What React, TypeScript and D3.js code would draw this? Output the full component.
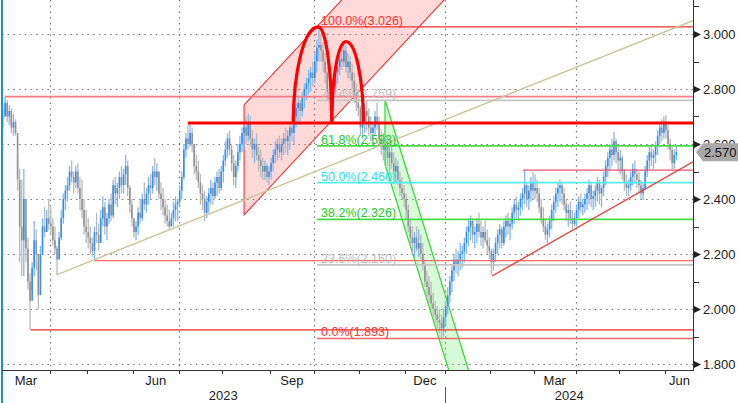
import React from 'react';
import * as d3 from 'd3';

// ---------------- DATA ----------------
// daily bars, Mar 2023 .. Jun 2024 (trading days)
const highs: number[] = [
  // Mar 2023
  2.73, 2.772, 2.76, 2.74, 2.73, 2.71, 2.69, 2.56, 2.51, 2.47, 2.51, 2.29, 2.26, 2.13, 2.17, 2.32, 2.29, 2.17, 2.23, 2.33, 2.37, 2.36, 2.40,
  // Apr
  2.37, 2.33, 2.30, 2.23, 2.28, 2.36, 2.42, 2.45, 2.48, 2.52, 2.54, 2.50, 2.52, 2.53, 2.48, 2.47, 2.40, 2.36,
  // May
  2.33, 2.30, 2.26, 2.30, 2.35, 2.31, 2.36, 2.41, 2.39, 2.35, 2.40, 2.42, 2.47, 2.48, 2.46, 2.50, 2.52, 2.51, 2.56, 2.54, 2.45, 2.40,
  // Jun
  2.33, 2.32, 2.37, 2.40, 2.42, 2.46, 2.44, 2.48, 2.49, 2.52, 2.55, 2.53, 2.50, 2.46, 2.44, 2.40, 2.38, 2.36, 2.35, 2.39, 2.41, 2.40,
  // Jul
  2.45, 2.50, 2.60, 2.64, 2.67, 2.676, 2.66, 2.60, 2.56, 2.54, 2.49, 2.45, 2.43, 2.41, 2.44, 2.47, 2.46, 2.48, 2.50, 2.51, 2.52,
  // Aug
  2.56, 2.61, 2.64, 2.65, 2.60, 2.56, 2.54, 2.60, 2.63, 2.66, 2.68, 2.70, 2.71, 2.70, 2.65, 2.62, 2.64, 2.59, 2.58, 2.55, 2.54, 2.53, 2.52,
  // Sep
  2.55, 2.58, 2.61, 2.62, 2.63, 2.62, 2.64, 2.66, 2.65, 2.67, 2.71, 2.72, 2.75, 2.77, 2.76, 2.79, 2.82, 2.84, 2.87, 2.88, 2.90,
  // Oct
  2.93, 2.98, 3.026, 3.00, 2.97, 2.93, 2.88, 2.82, 2.78, 2.83, 2.88, 2.92, 2.94, 2.96, 2.972, 2.96, 2.93, 2.92, 2.89, 2.86, 2.82, 2.80,
  // Nov
  2.74, 2.72, 2.75, 2.76, 2.73, 2.70, 2.68, 2.72, 2.75, 2.70, 2.65, 2.64, 2.62, 2.63, 2.59, 2.61, 2.57, 2.55, 2.54, 2.50, 2.48, 2.45,
  // Dec
  2.42, 2.38, 2.33, 2.30, 2.28, 2.30, 2.29, 2.27, 2.24, 2.18, 2.14, 2.12, 2.10, 2.06, 2.03, 2.01, 2.00, 1.98, 2.00,
  // Jan 2024
  2.03, 2.08, 2.12, 2.16, 2.20, 2.22, 2.21, 2.24, 2.23, 2.26, 2.30, 2.33, 2.34, 2.33, 2.30, 2.33, 2.35, 2.32, 2.30, 2.32, 2.29, 2.26,
  // Feb
  2.22, 2.22, 2.26, 2.29, 2.31, 2.30, 2.32, 2.34, 2.35, 2.33, 2.37, 2.40, 2.41, 2.39, 2.42, 2.44, 2.505, 2.46, 2.45, 2.48, 2.50,
  // Mar
  2.49, 2.47, 2.44, 2.40, 2.37, 2.33, 2.31, 2.34, 2.38, 2.41, 2.44, 2.46, 2.47, 2.46, 2.44, 2.40, 2.38, 2.39, 2.36, 2.35,
  // Apr
  2.38, 2.41, 2.42, 2.40, 2.42, 2.44, 2.47, 2.46, 2.43, 2.45, 2.48, 2.47, 2.45, 2.50, 2.54, 2.57, 2.60, 2.62, 2.644, 2.62, 2.59,
  // May
  2.58, 2.56, 2.51, 2.49, 2.47, 2.50, 2.53, 2.54, 2.51, 2.50, 2.47, 2.46, 2.52, 2.56, 2.59, 2.60, 2.58, 2.61, 2.65, 2.68, 2.69, 2.70,
  // Jun
  2.705, 2.67, 2.62, 2.59, 2.58, 2.59,
];

const lows: number[] = [
  // Mar 2023
  2.66, 2.70, 2.68, 2.67, 2.64, 2.63, 2.63, 2.43, 2.17, 2.12, 2.12, 2.17, 2.07, 1.924, 2.07, 2.12, 2.14, 2.00, 2.13, 2.23, 2.26, 2.28, 2.29,
  // Apr
  2.27, 2.23, 2.20, 2.125, 2.18, 2.25, 2.31, 2.36, 2.39, 2.43, 2.46, 2.42, 2.44, 2.42, 2.36, 2.33, 2.27, 2.24,
  // May
  2.22, 2.20, 2.19, 2.176, 2.24, 2.21, 2.24, 2.30, 2.27, 2.25, 2.31, 2.32, 2.33, 2.38, 2.37, 2.40, 2.42, 2.42, 2.45, 2.41, 2.35, 2.30,
  // Jun
  2.26, 2.25, 2.27, 2.31, 2.32, 2.36, 2.35, 2.38, 2.40, 2.42, 2.45, 2.43, 2.40, 2.36, 2.34, 2.31, 2.30, 2.29, 2.30, 2.30, 2.32, 2.32,
  // Jul
  2.37, 2.40, 2.47, 2.55, 2.58, 2.59, 2.57, 2.49, 2.47, 2.44, 2.38, 2.36, 2.32, 2.33, 2.35, 2.38, 2.38, 2.40, 2.41, 2.42, 2.43,
  // Aug
  2.46, 2.52, 2.55, 2.56, 2.50, 2.45, 2.44, 2.50, 2.54, 2.57, 2.58, 2.60, 2.61, 2.59, 2.55, 2.53, 2.54, 2.50, 2.48, 2.47, 2.47, 2.46, 2.45,
  // Sep
  2.47, 2.50, 2.53, 2.54, 2.55, 2.54, 2.56, 2.57, 2.56, 2.58, 2.61, 2.60, 2.66, 2.68, 2.67, 2.70, 2.73, 2.76, 2.78, 2.79, 2.81,
  // Oct
  2.82, 2.86, 2.90, 2.90, 2.86, 2.82, 2.76, 2.72, 2.69, 2.72, 2.78, 2.82, 2.85, 2.87, 2.88, 2.86, 2.84, 2.83, 2.80, 2.75, 2.72, 2.70,
  // Nov
  2.63, 2.62, 2.64, 2.65, 2.63, 2.61, 2.60, 2.63, 2.65, 2.60, 2.56, 2.54, 2.53, 2.52, 2.50, 2.51, 2.47, 2.46, 2.45, 2.41, 2.40, 2.37,
  // Dec
  2.33, 2.28, 2.23, 2.20, 2.19, 2.21, 2.19, 2.18, 2.14, 2.08, 2.04, 2.02, 2.00, 1.97, 1.95, 1.93, 1.91, 1.893, 1.90,
  // Jan 2024
  1.94, 1.98, 2.02, 2.06, 2.10, 2.13, 2.12, 2.14, 2.15, 2.17, 2.20, 2.23, 2.25, 2.24, 2.22, 2.24, 2.26, 2.23, 2.22, 2.24, 2.20, 2.18,
  // Feb
  2.125, 2.14, 2.17, 2.20, 2.22, 2.22, 2.23, 2.26, 2.27, 2.25, 2.29, 2.31, 2.33, 2.32, 2.34, 2.36, 2.38, 2.37, 2.36, 2.39, 2.40,
  // Mar
  2.40, 2.39, 2.35, 2.31, 2.28, 2.25, 2.24, 2.26, 2.29, 2.32, 2.35, 2.37, 2.39, 2.38, 2.36, 2.32, 2.30, 2.31, 2.29, 2.30,
  // Apr
  2.30, 2.33, 2.35, 2.34, 2.35, 2.36, 2.38, 2.37, 2.36, 2.37, 2.39, 2.38, 2.37, 2.41, 2.45, 2.48, 2.50, 2.52, 2.54, 2.53, 2.50,
  // May
  2.49, 2.47, 2.43, 2.41, 2.41, 2.43, 2.45, 2.46, 2.44, 2.42, 2.40, 2.396, 2.43, 2.48, 2.51, 2.52, 2.51, 2.53, 2.56, 2.60, 2.61, 2.62,
  // Jun
  2.62, 2.58, 2.54, 2.505, 2.51, 2.54,
];

const closes: number[] = [
  // Mar 2023
  2.70, 2.75, 2.70, 2.72, 2.66, 2.68, 2.64, 2.47, 2.30, 2.25, 2.40, 2.22, 2.10, 2.03, 2.15, 2.25, 2.20, 2.05, 2.20, 2.30, 2.28, 2.33, 2.31,
  // Apr
  2.30, 2.25, 2.22, 2.18, 2.26, 2.33, 2.40, 2.43, 2.45, 2.50, 2.48, 2.46, 2.50, 2.44, 2.40, 2.36, 2.30, 2.28,
  // May
  2.26, 2.24, 2.21, 2.28, 2.27, 2.24, 2.33, 2.37, 2.30, 2.33, 2.38, 2.34, 2.45, 2.42, 2.44, 2.48, 2.45, 2.49, 2.52, 2.44, 2.38, 2.33,
  // Jun
  2.28, 2.30, 2.35, 2.33, 2.40, 2.38, 2.42, 2.45, 2.44, 2.50, 2.48, 2.50, 2.42, 2.40, 2.37, 2.34, 2.32, 2.30, 2.33, 2.36, 2.38, 2.39,
  // Jul
  2.43, 2.48, 2.58, 2.62, 2.60, 2.64, 2.60, 2.52, 2.50, 2.46, 2.42, 2.40, 2.35, 2.39, 2.42, 2.44, 2.41, 2.46, 2.48, 2.44, 2.50,
  // Aug
  2.54, 2.58, 2.62, 2.58, 2.53, 2.48, 2.52, 2.57, 2.60, 2.64, 2.66, 2.63, 2.68, 2.62, 2.58, 2.60, 2.56, 2.54, 2.52, 2.50, 2.52, 2.48, 2.50,
  // Sep
  2.53, 2.56, 2.58, 2.60, 2.57, 2.60, 2.62, 2.61, 2.63, 2.66, 2.64, 2.70, 2.73, 2.75, 2.72, 2.77, 2.80, 2.82, 2.84, 2.86, 2.84,
  // Oct
  2.90, 2.95, 2.96, 2.94, 2.90, 2.86, 2.79, 2.76, 2.74, 2.81, 2.86, 2.88, 2.91, 2.90, 2.94, 2.88, 2.90, 2.86, 2.83, 2.78, 2.75, 2.73,
  // Nov
  2.66, 2.68, 2.72, 2.70, 2.66, 2.64, 2.66, 2.70, 2.68, 2.62, 2.60, 2.58, 2.60, 2.55, 2.57, 2.53, 2.50, 2.52, 2.47, 2.44, 2.42, 2.40,
  // Dec
  2.36, 2.30, 2.26, 2.24, 2.26, 2.22, 2.24, 2.20, 2.16, 2.10, 2.08, 2.05, 2.02, 2.00, 1.98, 1.96, 1.95, 1.93, 1.97,
  // Jan 2024
  2.01, 2.05, 2.10, 2.14, 2.18, 2.16, 2.18, 2.20, 2.21, 2.24, 2.28, 2.30, 2.32, 2.27, 2.28, 2.31, 2.28, 2.26, 2.28, 2.25, 2.23, 2.21,
  // Feb
  2.17, 2.20, 2.24, 2.27, 2.29, 2.24, 2.30, 2.32, 2.30, 2.31, 2.35, 2.38, 2.36, 2.37, 2.40, 2.42, 2.45, 2.40, 2.43, 2.46, 2.43,
  // Mar
  2.44, 2.42, 2.37, 2.33, 2.30, 2.27, 2.29, 2.32, 2.36, 2.39, 2.42, 2.44, 2.45, 2.42, 2.38, 2.35, 2.36, 2.33, 2.31, 2.33,
  // Apr
  2.36, 2.39, 2.37, 2.38, 2.40, 2.42, 2.45, 2.40, 2.41, 2.43, 2.46, 2.42, 2.44, 2.48, 2.52, 2.55, 2.58, 2.56, 2.61, 2.57, 2.54,
  // May
  2.55, 2.50, 2.46, 2.44, 2.45, 2.48, 2.51, 2.49, 2.47, 2.45, 2.42, 2.44, 2.50, 2.54, 2.57, 2.55, 2.56, 2.59, 2.63, 2.66, 2.64, 2.68,
  // Jun
  2.65, 2.60, 2.58, 2.53, 2.56, 2.57,
];

const holidays = ['2023-04-07', '2023-04-10', '2023-05-01', '2023-12-25', '2023-12-26', '2024-01-01', '2024-03-29', '2024-04-01', '2024-05-01'];
const firstDate = '2023-03-01';
const slotCount = 333; // trading-day slots on the x axis (data + right margin)

const yMajorTicks = [1.8, 2.0, 2.2, 2.4, 2.6, 2.8, 3.0];
const yMinorTicks = [1.9, 2.1, 2.3, 2.5, 2.7, 2.9, 3.1];
const monthNames = ['Jan', 'Feb', 'Mar', 'Apr', 'May', 'Jun', 'Jul', 'Aug', 'Sep', 'Oct', 'Nov', 'Dec'];
const labeledMonths = [2, 5, 8, 11];
const gridMonths = [0, 3, 6, 9];
const lastPrice = 2.570;

// Fibonacci retracement
const fibHigh = 3.026;
const fibLow = 1.893;
const fibRatios = [1, 0.764, 0.618, 0.5, 0.382, 0.236, 0];
const fibStartIdx = 151.6;

// horizontal levels [value, start index]
const levelValues = [2.772, 2.505, 2.176, 1.924];
const levelStarts = [1.4, 250.6, 44.8, 13.8];
const necklineValue = 2.676;
const necklineStart = 89.5;

// trend lines [index, value]
const tanTrend: [number, number][] = [[26.5, 2.125], [333, 3.05]];
const supportTrend: [number, number][] = [[235.8, 2.12], [333, 2.537]];

// rising channel (red) and falling channel (green): [index, value]
const redChannel: [number, number][] = [[116.5, 2.742], [230, 3.664], [230, 3.264], [116.5, 2.342]];
const greenChannel: [number, number][] = [[184.3, 2.76], [240, 1.399], [240, 1.166], [184.3, 2.527]];

// double-top arches: [start, peak, end]
const arch1: [number, number][] = [[140.2, 2.676], [152.2, 3.026], [158.7, 2.676]];
const arch2: [number, number][] = [[158.7, 2.676], [165.5, 2.972], [173.9, 2.676]];

// ---------------- CHART ----------------
const W = 738, H = 403;
const L = 2, R = 694, T = 0, B = 370;

function buildDates(n: number): Date[] {
  const hol = new Set(holidays);
  const out: Date[] = [];
  const d = new Date(firstDate + 'T00:00:00Z');
  while (out.length < n) {
    const dow = d.getUTCDay();
    const iso = d.toISOString().slice(0, 10);
    if (dow !== 0 && dow !== 6 && !hol.has(iso)) out.push(new Date(d.getTime()));
    d.setUTCDate(d.getUTCDate() + 1);
  }
  return out;
}

const fmt = (v: number) => d3.format('.3f')(v + 1e-9);

export default function App() {
  const n = closes.length;
  const dates = buildDates(n);
  const x = d3.scaleLinear().domain([0, slotCount]).range([L, R]);
  const y = d3.scaleLinear().domain([1.8, 3.0]).range([364, 34]);

  const monthStarts: { idx: number; m: number; yr: number }[] = [];
  dates.forEach((d, i) => {
    if (i === 0 || d.getUTCMonth() !== dates[i - 1].getUTCMonth()) {
      monthStarts.push({ idx: i, m: d.getUTCMonth(), yr: d.getUTCFullYear() });
    }
  });
  const yearStarts = monthStarts.filter((ms, i) => i === 0 || ms.yr !== monthStarts[i - 1].yr);

  const line = d3.line<[number, number]>().x(d => x(d[0])).y(d => y(d[1]));
  const poly = (pts: [number, number][]) => line(pts) + 'Z';

  const archPath = (pts: [number, number][]) => {
    const [x0, y0] = [x(pts[0][0]), y(pts[0][1])];
    const [xp, yp] = [x(pts[1][0]), y(pts[1][1])];
    const [x1, y1] = [x(pts[2][0]), y(pts[2][1])];
    const k = 0.5523;
    return `M${x0},${y0} C${x0},${y0 - k * (y0 - yp)} ${xp - k * (xp - x0)},${yp} ${xp},${yp} ` +
      `C${xp + k * (x1 - xp)},${yp} ${x1},${y1 - k * (y1 - yp)} ${x1},${y1}`;
  };

  const fibColors = ['#e83535', '#c4c4c4', '#44dd44', '#55eef0', '#44dd44', '#c4c4c4', '#f06a6a'];
  const fibTextColors = ['#ff3030', '#c0c0c0', '#22cc22', '#22e5ee', '#22cc22', '#bdbdbd', '#ff3030'];
  const levelColors = ['#f27b87', '#f0506a', '#f26a6a', '#ee2a2a'];

  const font = '"Liberation Sans", Arial, sans-serif';
  const yLast = y(lastPrice);

  return (
    <svg width={W} height={H} style={{ position: 'absolute', left: 0, top: 0, background: '#fff' }}
      fontFamily={font}>
      <defs>
        <clipPath id="plot"><rect x={L} y={T} width={R - L} height={B - T} /></clipPath>
      </defs>
      <rect x={0} y={0} width={W} height={H} fill="#fff" />

      {/* grid */}
      <g stroke="#7a7a7a" strokeWidth={1.2} strokeDasharray="1.5,4.2">
        {yMajorTicks.map(v => (
          <line key={'gy' + v} x1={L} x2={R} y1={Math.round(y(v)) + 0.5} y2={Math.round(y(v)) + 0.5} />
        ))}
        {monthStarts.filter(ms => ms.idx > 0 && gridMonths.includes(ms.m)).map(ms => (
          <line key={'gx' + ms.idx} x1={Math.round(x(ms.idx)) + 0.5} x2={Math.round(x(ms.idx)) + 0.5} y1={T} y2={B} />
        ))}
      </g>

      <g clipPath="url(#plot)">
        {/* channel fills */}
        <path d={poly(redChannel)} fill="rgba(255,60,60,0.2)" stroke="#f03030" strokeWidth={1.1} />
        <path d={poly(greenChannel)} fill="rgba(60,230,60,0.2)" stroke="#3ada3a" strokeWidth={1.3} />

        {/* bars */}
        {closes.map((c, i) => {
          const o = i === 0 ? c : closes[i - 1];
          const up = c >= o;
          const cx = x(i + 0.5);
          const yt = y(Math.max(o, c));
          const yb = y(Math.min(o, c));
          return (
            <g key={'b' + i}>
              <line x1={cx} x2={cx} y1={y(highs[i])} y2={y(lows[i])} stroke={up ? '#80b9f2' : '#b9b9b9'} strokeWidth={1.3} />
              <rect x={cx - 0.8} y={yt} width={1.6} height={Math.max(1, yb - yt)} fill={up ? '#338ff0' : '#929292'} />
            </g>
          );
        })}

        {/* fibonacci lines */}
        {fibRatios.map((r, i) => {
          const v = fibLow + r * (fibHigh - fibLow);
          return <line key={'f' + i} x1={x(fibStartIdx)} x2={R} y1={y(v)} y2={y(v)} stroke={fibColors[i]} strokeWidth={i === 0 ? 1.1 : 1.6} />;
        })}

        {/* horizontal levels */}
        {levelValues.map((v, i) => (
          <line key={'l' + i} x1={x(levelStarts[i])} x2={R} y1={y(v)} y2={y(v)} stroke={levelColors[i]} strokeWidth={i === 0 ? 1.8 : 1.4} />
        ))}

        {/* trend lines */}
        <path d={line(tanTrend) || ''} fill="none" stroke="#cbc39a" strokeWidth={1.4} />
        <path d={line(supportTrend) || ''} fill="none" stroke="#f03a3a" strokeWidth={1.3} />

        {/* fib labels */}
        {fibRatios.map((r, i) => {
          const v = fibLow + r * (fibHigh - fibLow);
          return (
            <text key={'ft' + i} x={x(fibStartIdx) + 4} y={y(v) - 2} fontSize={12.5} fill={fibTextColors[i]}>
              {`${(r * 100).toFixed(1)}%(${fmt(v)})`}
            </text>
          );
        })}

        {/* neckline */}
        <line x1={x(necklineStart)} x2={R} y1={y(necklineValue)} y2={y(necklineValue)} stroke="#ff0000" strokeWidth={3} />

        {/* arches */}
        <path d={archPath(arch1)} fill="none" stroke="#ff0000" strokeWidth={3.2} />
        <path d={archPath(arch2)} fill="none" stroke="#ff0000" strokeWidth={3.2} />
      </g>

      {/* left edge */}
      <line x1={2} x2={2} y1={0} y2={H} stroke="#1596d2" strokeWidth={2} />

      {/* x axis */}
      <line x1={L} x2={R} y1={B + 0.5} y2={B + 0.5} stroke="#333" strokeWidth={1} />
      {monthStarts.filter(ms => ms.idx > 0).map(ms => (
        <line key={'xt' + ms.idx} x1={Math.round(x(ms.idx)) + 0.5} x2={Math.round(x(ms.idx)) + 0.5} y1={B} y2={B + 4} stroke="#333" />
      ))}
      {monthStarts.map((ms, k) => {
        if (!labeledMonths.includes(ms.m)) return null;
        const x0 = x(ms.idx);
        const x1 = k + 1 < monthStarts.length ? x(monthStarts[k + 1].idx) : R;
        return (
          <text key={'xl' + ms.idx} x={(x0 + x1) / 2} y={385} fontSize={13} fill="#222" textAnchor="middle">
            {monthNames[ms.m]}
          </text>
        );
      })}
      {yearStarts.map((ys, k) => {
        const x0 = x(ys.idx);
        const x1 = k + 1 < yearStarts.length ? x(yearStarts[k + 1].idx) : R;
        return (
          <text key={'yr' + ys.yr} x={(x0 + x1) / 2} y={400} fontSize={13} fill="#222" textAnchor="middle">
            {ys.yr}
          </text>
        );
      })}
      {yearStarts.filter(ys => ys.idx > 0).map(ys => (
        <line key={'ysep' + ys.yr} x1={Math.round(x(ys.idx)) + 0.5} x2={Math.round(x(ys.idx)) + 0.5} y1={387} y2={H} stroke="#555" />
      ))}

      {/* y axis */}
      <line x1={R - 0.5} x2={R - 0.5} y1={T} y2={B} stroke="#333" strokeWidth={1} />
      {yMinorTicks.map(v => (
        <line key={'ym' + v} x1={R} x2={R + 5} y1={Math.round(y(v)) + 0.5} y2={Math.round(y(v)) + 0.5} stroke="#333" />
      ))}
      {yMajorTicks.map(v => {
        const yy = Math.round(y(v)) + 0.5;
        return (
          <g key={'yM' + v}>
            <path d={`M${R},${yy - 3.5} L${R + 7},${yy} L${R},${yy + 3.5} Z`} fill="#222" />
            <text x={R + 9} y={yy} dy="0.36em" fontSize={13} fill="#222">{fmt(v)}</text>
          </g>
        );
      })}

      {/* last price tag */}
      <path d={`M${R + 2},${yLast} L${R + 9},${yLast - 9} L${W},${yLast - 9} L${W},${yLast + 9} L${R + 9},${yLast + 9} Z`} fill="#a8a8a8" />
      <text x={R + 10} y={yLast} dy="0.36em" fontSize={13} fill="#111">{fmt(lastPrice)}</text>
    </svg>
  );
}
